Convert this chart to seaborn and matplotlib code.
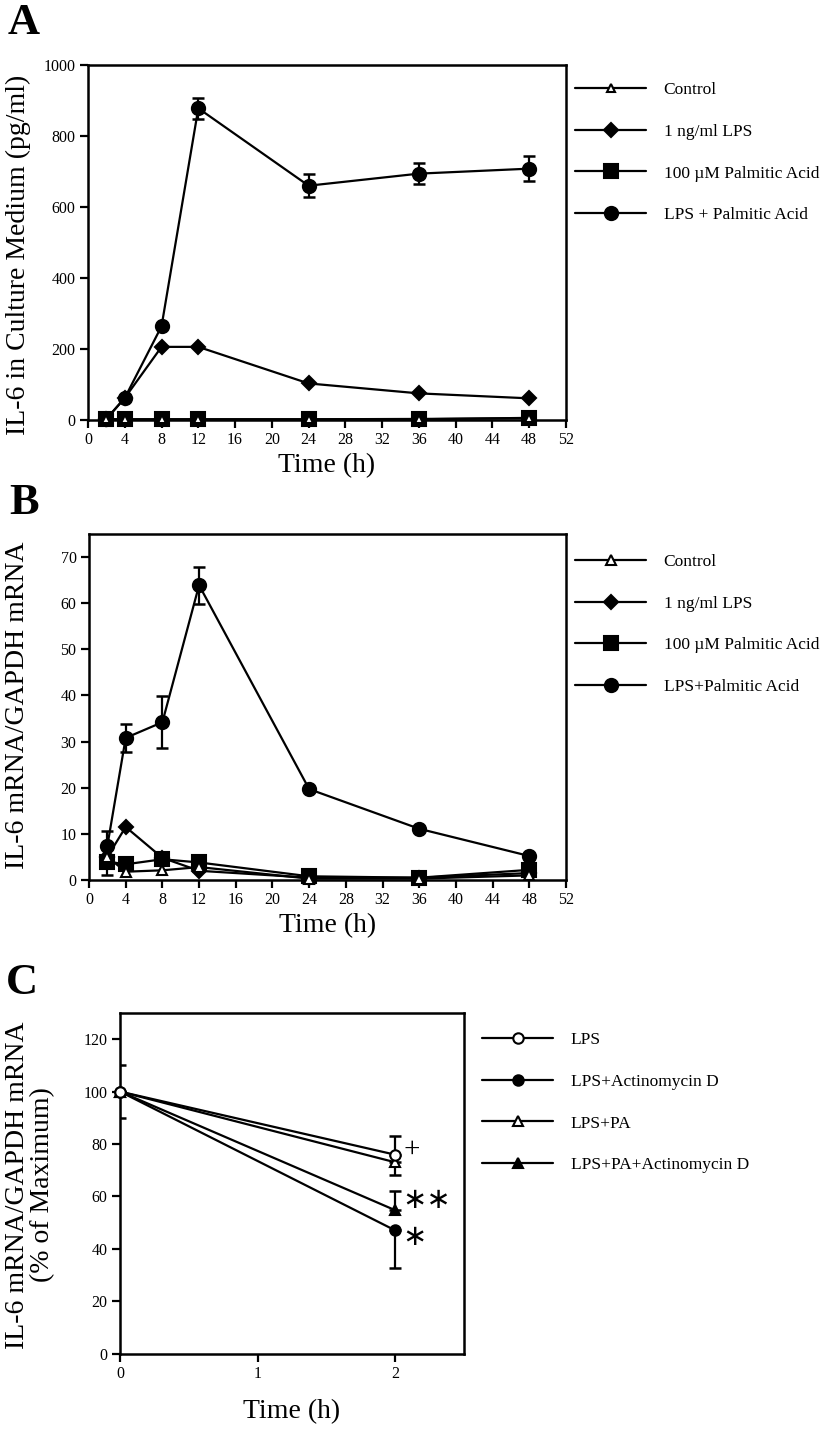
import matplotlib
matplotlib.use("Agg")
import matplotlib.pyplot as plt
import seaborn as sns

# Painel A - IL-6 no meio de cultura (pg/ml)
horas = [2, 4, 8, 12, 24, 36, 48]
a_controle = [2, 2, 2, 2, 2, 2, 6]
a_lps = [3, 62, 206, 206, 103, 75, 61]
a_pa = [2, 2, 2, 2, 2, 3, 5]
a_lps_pa = [3, 62, 264, 878, 660, 694, 708]
a_lps_pa_erro = [0, 0, 0, 29, 32, 30, 35]
a_rotulos = ["Control", "1 ng/ml LPS", "100 \u00b5M Palmitic Acid", "LPS + Palmitic Acid"]

# Painel B - IL-6 mRNA / GAPDH mRNA
b_controle = [5.0, 1.8, 2.1, 2.8, 0.3, 0.3, 1.0]
b_lps = [5.0, 11.5, 4.8, 2.0, 0.5, 0.5, 1.5]
b_pa = [4.0, 3.4, 4.5, 3.8, 0.8, 0.5, 2.2]
b_lps_pa = [7.4, 30.8, 34.2, 63.9, 19.7, 11.1, 5.2]
b_lps_pa_erro = [3.3, 3.0, 5.6, 4.0, 0, 0, 0]
b_pa_erro = [3.0, 0, 0, 0, 0, 0, 0]
b_rotulos = ["Control", "1 ng/ml LPS", "100 \u00b5M Palmitic Acid", "LPS+Palmitic Acid"]

# Painel C - % do maximo
c_horas = [0, 2]
c_lps = [100, 75.9]
c_lps_actd = [100, 47.0]
c_lps_pa = [100, 73.0]
c_lps_pa_actd = [100, 54.7]
c_lps_erro_sup = [0, 7.3]
c_lps_actd_erro = [10, 14.5]
c_lps_pa_erro_inf = [0, 5.0]
c_lps_pa_actd_erro_sup = [0, 7.2]
c_rotulos = ["LPS", "LPS+Actinomycin D", "LPS+PA", "LPS+PA+Actinomycin D"]

sns.set_style("ticks")
plt.rcParams["font.family"] = ["Liberation Serif", "DejaVu Serif"]
for chave in ["text.color", "axes.edgecolor", "axes.labelcolor", "xtick.color", "ytick.color"]:
    plt.rcParams[chave] = "black"

W, H = 822, 1436
fig = plt.figure(figsize=(W / 100, H / 100), dpi=100)


def caixa(x0, y0, x1, y1):
    # converte pixels (topo-esquerda) em fracao da figura
    return [x0 / W, 1 - y1 / H, (x1 - x0) / W, (y1 - y0) / H]


def linha(ax, x, y, marcador, tam, cor_face, rotulo, z, lw=1.6):
    sns.lineplot(x=x, y=y, ax=ax, color="black", linewidth=lw, marker=marcador,
                 markersize=tam, markerfacecolor=cor_face, markeredgecolor="black",
                 markeredgewidth=1.5, label=rotulo, zorder=z, legend=False, clip_on=False)


def erro(ax, x, y, inf, sup, z):
    ax.errorbar(x, y, yerr=[inf, sup], fmt="none", ecolor="black", elinewidth=1.6,
                capsize=4.5, capthick=1.8, zorder=z)


def eixos(ax):
    for s in ax.spines.values():
        s.set_linewidth(1.8)
        s.set_visible(True)
        s.set_color("black")
    ax.tick_params(direction="out", length=6, width=1.6, labelsize=11.5, pad=3,
                   colors="black")
    ax.set_ylabel("")


def legenda(ax, x, y, hl=4.1):
    handles, labels = ax.get_legend_handles_labels()
    ax.legend(handles, labels, loc="upper left", bbox_to_anchor=(x / W, 1 - y / H),
              bbox_transform=fig.transFigure, frameon=False, fontsize=12.5,
              handlelength=hl, handletextpad=1.0, labelspacing=1.47,
              borderpad=0, borderaxespad=0)


# ---------------- A ----------------
axA = fig.add_axes(caixa(88, 65, 566, 420))
erro(axA, horas, a_lps_pa, a_lps_pa_erro, a_lps_pa_erro, 1)
linha(axA, horas, a_controle, "^", 5.5, "white", a_rotulos[0], 6)
linha(axA, horas, a_lps, "D", 7.2, "black", a_rotulos[1], 4)
linha(axA, horas, a_pa, "s", 10, "black", a_rotulos[2], 5)
linha(axA, horas, a_lps_pa, "o", 9.5, "black", a_rotulos[3], 3)
axA.set_xlim(0, 52)
axA.set_ylim(0, 1000)
axA.set_xticks(range(0, 53, 4))
axA.set_yticks(range(0, 1001, 200))
eixos(axA)
axA.set_xlabel("Time (h)", fontsize=20, labelpad=3)
legenda(axA, 575, 82)

# ---------------- B ----------------
axB = fig.add_axes(caixa(89, 534, 566, 880))
erro(axB, horas, b_lps_pa, b_lps_pa_erro, b_lps_pa_erro, 1)
erro(axB, horas, b_pa, b_pa_erro, [0] * 7, 1)
linha(axB, horas, b_controle, "^", 6.5, "white", b_rotulos[0], 6)
linha(axB, horas, b_lps, "D", 7.2, "black", b_rotulos[1], 4)
linha(axB, horas, b_pa, "s", 10, "black", b_rotulos[2], 5)
linha(axB, horas, b_lps_pa, "o", 9.5, "black", b_rotulos[3], 3)
axB.set_xlim(0, 52)
axB.set_ylim(0, 75)
axB.set_xticks(range(0, 53, 4))
axB.set_yticks(range(0, 71, 10))
eixos(axB)
axB.set_xlabel("Time (h)", fontsize=20, labelpad=3)
legenda(axB, 575, 554)

# ---------------- C ----------------
axC = fig.add_axes(caixa(120, 1013, 464, 1353.5))
erro(axC, c_horas, c_lps, [0, 0], c_lps_erro_sup, 1)
erro(axC, c_horas, c_lps_actd, c_lps_actd_erro, [10, 0], 1)
erro(axC, c_horas, c_lps_pa, c_lps_pa_erro_inf, [0, 0], 1)
erro(axC, c_horas, c_lps_pa_actd, [0, 0], c_lps_pa_actd_erro_sup, 1)
linha(axC, c_horas, c_lps, "o", 7.5, "white", c_rotulos[0], 6)
linha(axC, c_horas, c_lps_actd, "o", 7.5, "black", c_rotulos[1], 3)
linha(axC, c_horas, c_lps_pa, "^", 7, "white", c_rotulos[2], 5)
linha(axC, c_horas, c_lps_pa_actd, "^", 7, "black", c_rotulos[3], 4)
axC.set_xlim(0, 2.5)
axC.set_ylim(0, 130)
axC.set_xticks([0, 1, 2])
axC.set_yticks(range(0, 121, 20))
eixos(axC)
axC.set_xlabel("Time (h)", fontsize=20, labelpad=12)
legenda(axC, 482, 1032)

# marcas de significancia
axC.text(2.06, c_lps[1] + 2, "+", fontsize=21, ha="left", va="center")
axC.text(2.05, c_lps_pa_actd[1] + 4, "\u2217\u2217", fontsize=21,
         ha="left", va="center", family="DejaVu Sans")
axC.text(2.05, c_lps_actd[1] - 2.5, "\u2217", fontsize=21,
         ha="left", va="center", family="DejaVu Sans")

# rotulos de eixo y e letras dos paineis
fig.text(18 / W, 1 - 255 / H, "IL-6 in Culture Medium (pg/ml)", rotation=90,
         ha="center", va="center", fontsize=20)
fig.text(18 / W, 1 - 705 / H, "IL-6 mRNA/GAPDH mRNA", rotation=90,
         ha="center", va="center", fontsize=20)
fig.text(30 / W, 1 - 1185 / H, "IL-6 mRNA/GAPDH mRNA\n(% of Maximum)", rotation=90,
         ha="center", va="center", fontsize=20, linespacing=1.0, multialignment="center")
for letra, (px, py) in {"A": (24, 23), "B": (24, 503), "C": (22, 983)}.items():
    fig.text(px / W, 1 - py / H, letra, fontsize=32, fontweight="bold",
             ha="center", va="center")

fig.savefig("out.png", dpi=100)
